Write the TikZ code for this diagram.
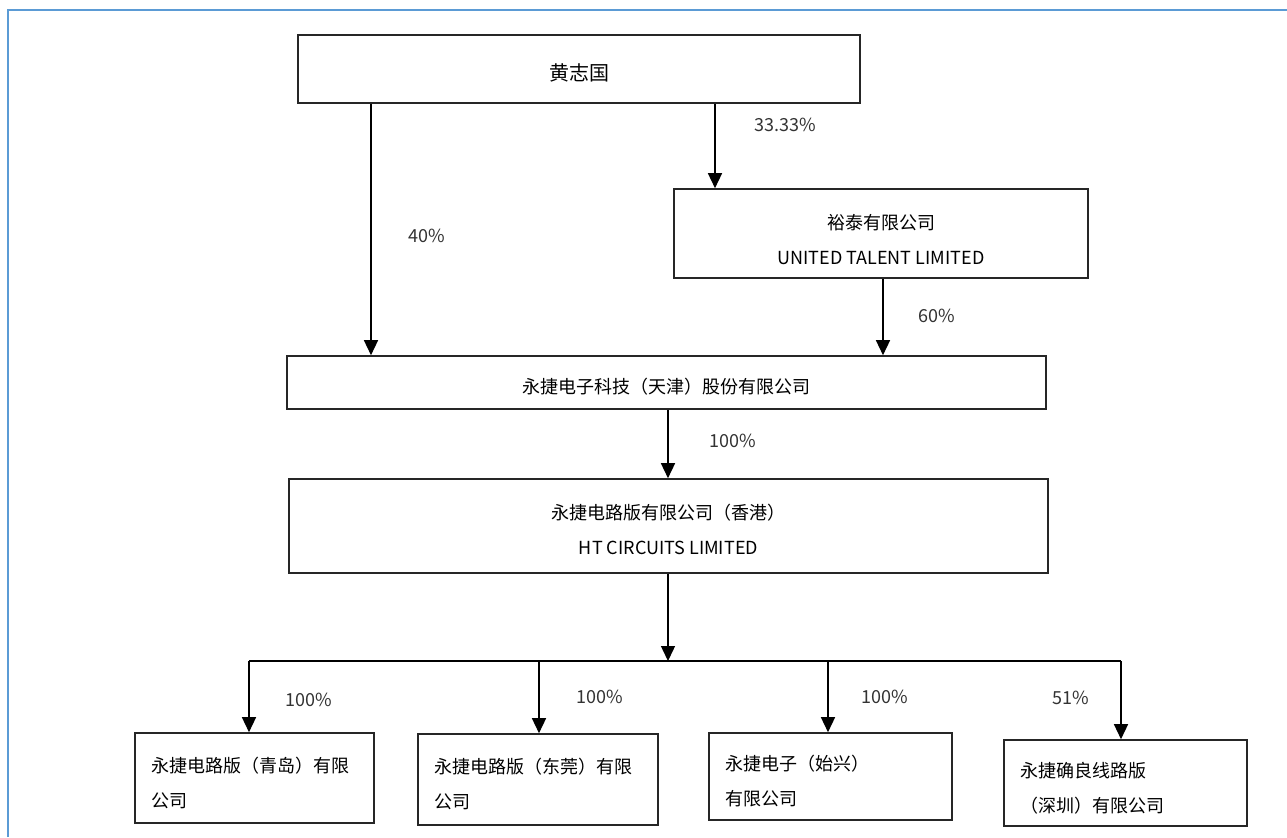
\documentclass[tikz,border=0pt]{standalone}
\usepackage{fontspec}
\setmainfont{Noto Sans CJK SC}
\usetikzlibrary{arrows.meta}
\definecolor{frameblue}{HTML}{5B9BD5}
\newcommand{\toppad}[1]{\rule{0pt}{#1}}
\tikzset{
  box/.style={draw=black!85,line width=0.8pt,inner sep=0pt,align=center,
    font=\fontsize{9pt}{17.5pt}\selectfont,execute at begin node={\rule{0pt}{12pt}}},
  leftbox/.style={draw=black!85,line width=0.8pt,inner xsep=8pt,inner ysep=0pt,align=left,
    font=\fontsize{9pt}{17.5pt}\selectfont,execute at begin node={\rule{0pt}{12.5pt}}},
  arr/.style={line width=0.7pt,-{Triangle[width=7pt,length=7.5pt]}},
  pct/.style={font=\fontsize{9pt}{11pt}\selectfont,text=black!80}
}
\begin{document}
\begin{tikzpicture}[x=0.5pt,y=-0.5pt]
  \useasboundingbox (0,0) rectangle (1287,837);
  \draw[frameblue,line width=1pt] (8,837) -- (8,10) -- (1287,10);

  % boxes
  \node[box,minimum width=281pt,minimum height=34pt,font=\fontsize{10pt}{12pt}\selectfont] (huang) at (579,69) {黄志国};
  \node[box,minimum width=207pt,minimum height=44.5pt] (yutai) at (881,233.5) {\toppad{14pt}裕泰有限公司\\UNITED TALENT LIMITED};
  \node[box,minimum width=379.5pt,minimum height=26.5pt] (yjtj) at (666.5,382.5) {永捷电子科技（天津）股份有限公司};
  \node[box,minimum width=379.5pt,minimum height=47pt] (yjhk) at (668.5,526) {\toppad{11pt}永捷电路版有限公司（香港）\\HT CIRCUITS LIMITED};
  \node[leftbox,text width=103.5pt,minimum height=45pt] (yjqd) at (254.5,778) {永捷电路版（青岛）有限\\公司};
  \node[leftbox,text width=104pt,minimum height=45.5pt] (yjdg) at (538,779.5) {永捷电路版（东莞）有限\\公司};
  \node[leftbox,text width=105.5pt,minimum height=43.5pt] (yjsx) at (830.5,776.5) {永捷电子（始兴）\\有限公司};
  \node[leftbox,text width=105.5pt,minimum height=43pt] (yjsz) at (1125.5,783) {永捷确良线路版\\（深圳）有限公司};

  % shareholdings
  \draw[arr] (huang.south -| 371,0) -- (yjtj.north -| 371,0);
  \draw[arr] (huang.south -| 715,0) -- (yutai.north -| 715,0);
  \draw[arr] (yutai.south -| 883,0) -- (yjtj.north -| 883,0);
  \draw[arr] (yjtj.south -| 668,0) -- (yjhk.north -| 668,0);

  \coordinate (bus) at (668,661);
  \coordinate (t1) at (249,661);
  \coordinate (t2) at (539,661);
  \coordinate (t3) at (828,661);
  \coordinate (t4) at (1121,661);
  \draw[arr] (yjhk.south -| bus) -- (bus);
  \draw[line width=0.7pt] (t1) -- (t4);
  \foreach \t/\b in {t1/yjqd,t2/yjdg,t3/yjsx,t4/yjsz}
    \draw[arr] (\t) -- (\b.north -| \t);

  % percentages
  \node[pct] (p40) at (427,236) {40\%};
  \node[pct] (p33) at (785,125) {33.33\%};
  \node[pct] (p60) at (937,316) {60\%};
  \node[pct] (p100) at (733,441) {100\%};
  \node[pct] (pqd) at (309,700) {100\%};
  \node[pct] (pdg) at (600,697) {100\%};
  \node[pct] (psx) at (885,697) {100\%};
  \node[pct] (psz) at (1071,698) {51\%};
\end{tikzpicture}
\end{document}
